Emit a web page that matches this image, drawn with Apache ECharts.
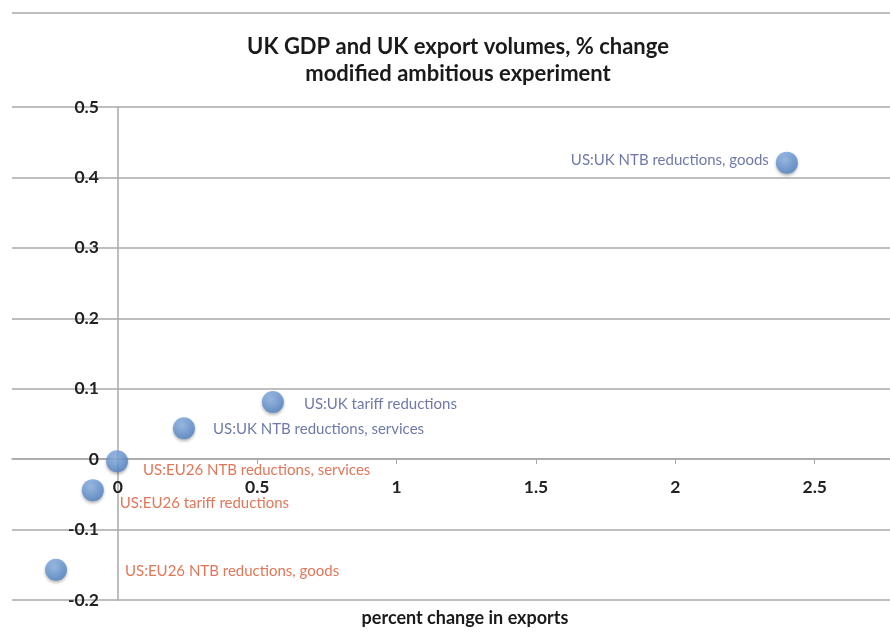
<!DOCTYPE html>
<html><head><meta charset="utf-8">
<script src="https://cdn.jsdelivr.net/npm/echarts@6/dist/echarts.min.js"></script>
<style>html,body{margin:0;padding:0;background:#fff}#c{width:890px;height:640px}</style>
</head><body><div id="c"></div>
<script>
const names = ['US:UK NTB reductions, goods','US:UK tariff reductions','US:UK NTB reductions, services','US:EU26 NTB reductions, services','US:EU26 tariff reductions','US:EU26 NTB reductions, goods'];
const exportsChange = [2.40, 0.556, 0.237, -0.003, -0.09, -0.222];
const gdpChange = [0.421, 0.081, 0.044, -0.003, -0.044, -0.157];
const xTicks = [0, 0.5, 1, 1.5, 2, 2.5];
const blue = '#4a5794', red = '#d9542f';
const labelCfg = [
  {position:'left', distance:7, offset:[0,-2], color:blue},
  {position:'right', distance:20, offset:[0,2], color:blue},
  {position:'right', distance:18, offset:[0,1], color:blue},
  {position:'right', distance:15, offset:[0,9], color:red},
  {position:'right', distance:16, offset:[0,13], color:red},
  {position:'right', distance:58, offset:[0,1], color:red}
];
const data = names.map((n,i)=>({
  value:[exportsChange[i], gdpChange[i]], name:n,
  label:{show:true, formatter:n, position:labelCfg[i].position, distance:labelCfg[i].distance, offset:labelCfg[i].offset, color:labelCfg[i].color,
    fontFamily:'Lato, sans-serif', fontSize:15}
}));
const G = {left:12, right:0, top:107, bottom:40};
const chart = echarts.init(document.getElementById('c'));
chart.setOption({
  animation:false,
  backgroundColor:'#fff',
  title:{text:'UK GDP and UK export volumes, % change\nmodified ambitious experiment', left:453, top:28, textAlign:'center',
    textStyle:{fontFamily:'Lato, sans-serif', fontWeight:'bold', fontSize:22, lineHeight:27, color:'#1a1a1a'}},
  grid:{left:G.left, right:G.right, top:G.top, bottom:G.bottom, outerBoundsMode:'none'},
  graphic:[{type:'line', shape:{x1:12,y1:13,x2:890,y2:13}, style:{stroke:'#a8a8a8', lineWidth:1.5}}],
  xAxis:{type:'value', min:-0.38, max:2.77, position:'bottom', offset:0,
    name:'percent change in exports', nameLocation:'middle', nameGap:150,
    nameTextStyle:{fontFamily:'Lato, sans-serif', fontWeight:'bold', fontSize:18, color:'#1a1a1a', padding:[0,0,0,28]},
    axisLine:{onZero:false, lineStyle:{color:'#a8a8a8', width:1.5}},
    axisTick:{show:true, customValues:xTicks, length:5, inside:false, lineStyle:{color:'#a8a8a8'}},
    axisLabel:{customValues:xTicks, margin:19, fontFamily:'Lato, sans-serif', fontWeight:'bold', fontSize:17.5, color:'#222',
      formatter:v=>String(v)},
    splitLine:{show:false}},
  yAxis:{type:'value', min:-0.2, max:0.5, interval:0.1, position:'left', offset:0,
    axisLine:{show:true, onZero:false, lineStyle:{color:'#a8a8a8', width:1.5}},
    axisTick:{show:false},
    axisLabel:{margin:19, fontFamily:'Lato, sans-serif', fontWeight:'bold', fontSize:17.5, color:'#222', padding:[4,0,0,0],
      formatter:v=>String(Math.round(v*10)/10)},
    splitLine:{show:true, lineStyle:{color:'#a8a8a8', width:1.5}}},
  series:[{type:'scatter', symbolSize:22, data:data,
    itemStyle:{color:new echarts.graphic.RadialGradient(0.4,0.35,0.7,[{offset:0,color:'#8fb6e8'},{offset:1,color:'#4a7fc4'}]),
      shadowColor:'rgba(0,0,0,0.35)', shadowBlur:3, shadowOffsetY:2}}]
});
// move the axes onto the origin using the library's own scale
const origin = chart.convertToPixel({gridIndex:0}, [0, 0]);
const H = chart.getHeight();
chart.setOption({
  xAxis:{offset: origin[1] - (H - G.bottom)},
  yAxis:{offset: G.left - origin[0]}
});
</script></body></html>
